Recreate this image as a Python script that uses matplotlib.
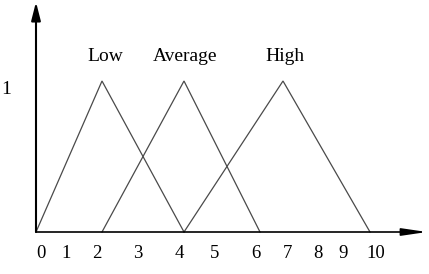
import numpy as np
import matplotlib.pyplot as plt

# fuzzy sets: left foot, peak, right foot
set_names = ['Low', 'Average', 'High']
left_feet = [0, 2, 4]
peaks = [2, 4, 7]
right_feet = [4, 6, 10]
top_value = 1

tick_values = [0, 1, 2, 3, 4, 5, 6, 7, 8, 9, 10]
tick_labels = ['0', '1', '2', '3', '4', '5', '6', '7', '8', '9', '10']

# the hand drawn axis is not evenly spaced, so map values -> pixels piecewise
knot_val = [-1.1, 0, 2, 4, 6, 7, 10, 12.1]
knot_px = [0, 36, 102, 184, 260, 283, 370, 431]
# where the tick numbers sit (pixels)
label_px = [41, 66, 97, 138, 179, 215, 256, 287, 318, 343, 376]


def fwd(v):
    return np.interp(v, knot_val, knot_px)


def inv(p):
    return np.interp(p, knot_px, knot_val)


plt.rcParams['font.family'] = ['Liberation Serif', 'DejaVu Serif']

fig = plt.figure(figsize=(4.29, 2.74), dpi=100)
ax = fig.add_axes([0, 42 / 274, 1, 232 / 274])
ax.set_xscale('function', functions=(fwd, inv))
ax.set_xlim(inv(0), inv(429))
ax.set_ylim(0, 232 / 151)

tri_color = '#4a4a4a'
for name, a, b, c in zip(set_names, left_feet, peaks, right_feet):
    ax.plot([a, b, c], [0, top_value, 0], color=tri_color, lw=0.9,
            solid_joinstyle='miter', clip_on=False)

# labels above the peaks
label_x = [105, 185, 285]
for name, px in zip(set_names, label_x):
    ax.text(inv(px), 171 / 151, name, ha='center', va='baseline', fontsize=14)

ax.text(inv(6), (232 - 90) / 151, '1', ha='center', va='center', fontsize=14)

# axes with arrow heads
ax.annotate('', xy=(0, 230 / 151), xytext=(0, 0),
            arrowprops=dict(arrowstyle='-|>,head_length=1.1,head_width=0.28',
                            mutation_scale=10, lw=1.5, color='black',
                            shrinkA=0, shrinkB=0))
ax.annotate('', xy=(inv(427), 0), xytext=(0, 0),
            arrowprops=dict(arrowstyle='-|>,head_length=1.5,head_width=0.22',
                            mutation_scale=10, lw=1.2, color='black',
                            shrinkA=0, shrinkB=0))

for s in ax.spines.values():
    s.set_visible(False)
ax.set_yticks([])
ax.set_xticks(inv(label_px), labels=tick_labels)
ax.xaxis.set_minor_locator(plt.NullLocator())
ax.tick_params(axis='x', length=0, pad=9, labelsize=13.5)
ax.patch.set_alpha(0)

fig.savefig('out.png', dpi=100)
